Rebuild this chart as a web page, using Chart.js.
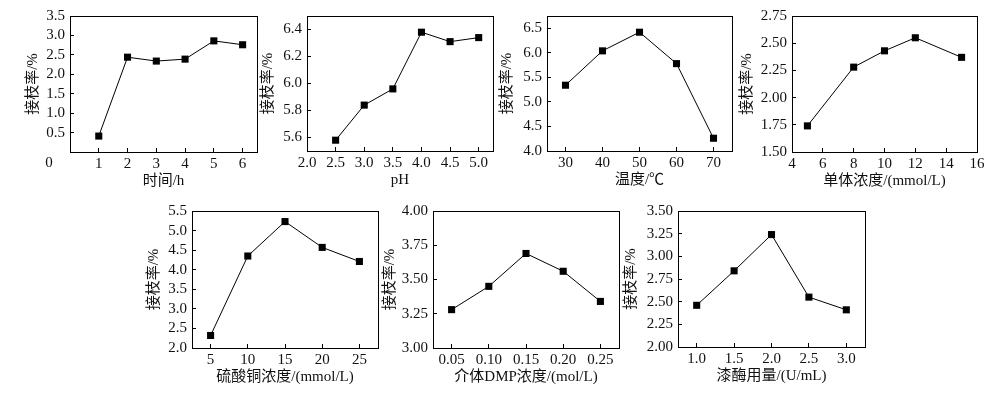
<!DOCTYPE html>
<html>
<head>
<meta charset="utf-8">
<script src="https://cdn.jsdelivr.net/npm/chart.js@4.4.1/dist/chart.umd.min.js"></script>
<style>
  html, body { margin: 0; padding: 0; background: #fff; }
  body { width: 999px; height: 394px; position: relative; overflow: hidden; }
  canvas { position: absolute; }
</style>
</head>
<body>
<script>
// values
const yTitle = '接枝率/%';

const timeX = [1, 2, 3, 4, 5, 6];
const timeY = [0.41, 2.44, 2.34, 2.39, 2.86, 2.76];
const timeXTicks = ['1', '2', '3', '4', '5', '6'];
const timeYTicks = ['0.5', '1.0', '1.5', '2.0', '2.5', '3.0', '3.5'];

const phX = [2.5, 3.0, 3.5, 4.0, 4.5, 5.0];
const phY = [5.58, 5.84, 5.96, 6.38, 6.31, 6.34];
const phXTicks = ['2.0', '2.5', '3.0', '3.5', '4.0', '4.5', '5.0'];
const phYTicks = ['5.6', '5.8', '6.0', '6.2', '6.4'];

const tempX = [30, 40, 50, 60, 70];
const tempY = [5.34, 6.04, 6.42, 5.78, 4.26];
const tempXTicks = ['30', '40', '50', '60', '70'];
const tempYTicks = ['4.0', '4.5', '5.0', '5.5', '6.0', '6.5'];

const monoX = [5, 8, 10, 12, 15];
const monoY = [1.74, 2.28, 2.43, 2.55, 2.37];
const monoXTicks = ['4', '6', '8', '10', '12', '14', '16'];
const monoYTicks = ['1.50', '1.75', '2.00', '2.25', '2.50', '2.75'];

const cuX = [5, 10, 15, 20, 25];
const cuY = [2.32, 4.35, 5.23, 4.57, 4.21];
const cuXTicks = ['5', '10', '15', '20', '25'];
const cuYTicks = ['2.0', '2.5', '3.0', '3.5', '4.0', '4.5', '5.0', '5.5'];

const dmpX = [0.05, 0.10, 0.15, 0.20, 0.25];
const dmpY = [3.28, 3.45, 3.69, 3.56, 3.34];
const dmpXTicks = ['0.05', '0.10', '0.15', '0.20', '0.25'];
const dmpYTicks = ['3.00', '3.25', '3.50', '3.75', '4.00'];

const laccX = [1.0, 1.5, 2.0, 2.5, 3.0];
const laccY = [2.46, 2.84, 3.24, 2.55, 2.41];
const laccXTicks = ['1.0', '1.5', '2.0', '2.5', '3.0'];
const laccYTicks = ['2.00', '2.25', '2.50', '2.75', '3.00', '3.25', '3.50'];

const panels = [
  { x: timeX, y: timeY, xTicks: timeXTicks, yTicks: timeYTicks, xMin: 0, xMax: 6.5, yMin: 0, yMax: 3.5,
    xTitle: '时间/h', box: [70, 16, 257, 152], gap: 37, origin: '0' },
  { x: phX, y: phY, xTicks: phXTicks, yTicks: phYTicks, xMin: 2, xMax: 5.25, yMin: 5.5, yMax: 6.5,
    xTitle: 'pH', box: [307, 16, 493, 151], gap: 39 },
  { x: tempX, y: tempY, xTicks: tempXTicks, yTicks: tempYTicks, xMin: 25, xMax: 75, yMin: 4, yMax: 6.75,
    xTitle: '温度/℃', box: [547, 16, 732, 151], gap: 40 },
  { x: monoX, y: monoY, xTicks: monoXTicks, yTicks: monoYTicks, xMin: 4, xMax: 16, yMin: 1.5, yMax: 2.75,
    xTitle: '单体浓度/(mmol/L)', box: [792, 16, 977, 152], gap: 45 },
  { x: cuX, y: cuY, xTicks: cuXTicks, yTicks: cuYTicks, xMin: 2.5, xMax: 27.5, yMin: 2, yMax: 5.5,
    xTitle: '硫酸铜浓度/(mmol/L)', box: [192, 211, 378, 348], gap: 38 },
  { x: dmpX, y: dmpY, xTicks: dmpXTicks, yTicks: dmpYTicks, xMin: 0.025, xMax: 0.275, yMin: 3, yMax: 4,
    xTitle: '介体DMP浓度/(mol/L)', box: [433, 211, 619, 348], gap: 43 },
  { x: laccX, y: laccY, xTicks: laccXTicks, yTicks: laccYTicks, xMin: 0.75, xMax: 3.25, yMin: 2, yMax: 3.5,
    xTitle: '漆酶用量/(U/mL)', box: [678, 211, 865, 347], gap: 47 }
];

const INK = '#111';
const SERIF = "'Liberation Serif', 'Times New Roman', serif";
const SERIF_CJK = "'Liberation Serif', 'Noto Sans CJK SC', serif";
const PAD_L = 70, PAD_T = 12, PAD_R = 22, PAD_B = 44;

// closes the box on top/right and puts the lone "0" at the corner
const frame = {
  id: 'frame',
  afterDraw(chart, args, opts) {
    const { ctx, chartArea: a } = chart;
    ctx.save();
    ctx.strokeStyle = '#000';
    ctx.lineWidth = 1;
    ctx.strokeRect(a.left + 0.5, a.top + 0.5, a.right - a.left, a.bottom - a.top);
    if (opts.origin) {
      ctx.fillStyle = INK;
      ctx.font = '15px ' + SERIF;
      ctx.textAlign = 'center';
      ctx.textBaseline = 'middle';
      ctx.fillText(opts.origin, a.left - 21, a.bottom + 11);
    }
    ctx.restore();
  }
};

panels.forEach(p => {
  const [l, t, r, b] = p.box;
  const canvas = document.createElement('canvas');
  canvas.width = r - l + PAD_L + PAD_R;
  canvas.height = b - t + PAD_T + PAD_B;
  canvas.style.left = (l - PAD_L) + 'px';
  canvas.style.top = (t - PAD_T) + 'px';
  document.body.appendChild(canvas);

  new Chart(canvas, {
    type: 'line',
    data: {
      datasets: [{
        data: p.x.map((v, i) => ({ x: v, y: p.y[i] })),
        borderColor: '#000',
        borderWidth: 1,
        backgroundColor: '#000',
        pointStyle: 'rect',
        pointRadius: 5,
        pointBorderWidth: 0,
        tension: 0
      }]
    },
    options: {
      responsive: false,
      animation: false,
      devicePixelRatio: 1,
      layout: { padding: { left: 0, top: PAD_T, right: PAD_R, bottom: 0 } },
      plugins: {
        legend: { display: false },
        tooltip: { enabled: false },
        frame: { origin: p.origin }
      },
      scales: {
        x: {
          type: 'linear',
          min: p.xMin,
          max: p.xMax,
          afterBuildTicks: s => { s.ticks = p.xTicks.map(v => ({ value: Number(v) })); },
          afterFit: s => { s.height = PAD_B; s.paddingLeft = 0; s.paddingRight = 0; },
          grid: { drawOnChartArea: false, tickLength: -4, color: '#000' },
          border: { color: '#000', width: 1 },
          ticks: {
            color: INK,
            font: { family: SERIF, size: 15 },
            padding: 7,
            maxRotation: 0,
            autoSkip: false,
            callback: (v, i) => p.xTicks[i]
          },
          title: {
            display: true,
            text: p.xTitle,
            color: INK,
            font: { family: SERIF_CJK, size: 15 },
            padding: { top: 0, bottom: 6 }
          }
        },
        y: {
          min: p.yMin,
          max: p.yMax,
          afterBuildTicks: s => { s.ticks = p.yTicks.map(v => ({ value: Number(v) })); },
          afterFit: s => { s.width = PAD_L; s.paddingTop = 0; s.paddingBottom = 0; },
          grid: { drawOnChartArea: false, tickLength: -4, color: '#000' },
          border: { color: '#000', width: 1 },
          ticks: {
            color: INK,
            font: { family: SERIF, size: 15 },
            padding: 9,
            autoSkip: false,
            callback: (v, i) => p.yTicks[i]
          },
          title: {
            display: true,
            text: yTitle,
            color: INK,
            font: { family: SERIF_CJK, size: 15 },
            padding: { top: PAD_L - p.gap - 9, bottom: 0 }
          }
        }
      }
    },
    plugins: [frame]
  });
});
</script>
</body>
</html>
